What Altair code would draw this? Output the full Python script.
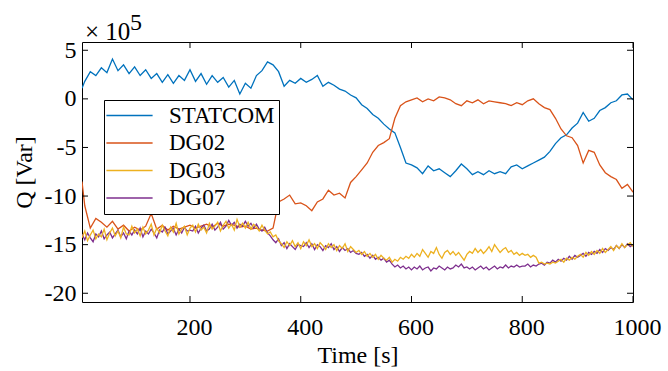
import altair as alt
import pandas as pd

# ---------------- data (values in units of 1e5 Var) ----------------
t_coarse = [5] + list(range(10, 1001, 10))      # 101 sample times
t_fine = list(range(5, 1001, 5))                 # 200 sample times

statcom = [
    1.1, 1.8, 2.8, 2.4, 3.2, 2.7, 4.1, 2.9, 3.5, 2.6, 3.3,
    2.4, 3.0, 2.1, 2.6, 1.7, 2.5, 1.6, 2.4, 1.9, 3.0,
    1.8, 2.6, 1.5, 2.4, 1.7, 2.2, 1.2, 1.9, 0.5, 1.6,
    1.1, 2.4, 2.9, 3.8, 3.5, 2.8, 1.3, 1.9, 1.6, 2.1,
    1.7, 2.0, 2.4, 1.3, 1.7, 1.4, 1.0, 0.8, 0.4, 0.1,
    -0.6, -1.0, -1.6, -2.0, -2.6, -3.1, -3.5, -5.0, -6.6, -6.8,
    -7.1, -7.7, -6.9, -7.4, -7.2, -7.6, -8.0, -7.4, -6.7, -7.2,
    -7.8, -7.5, -7.8, -7.4, -7.7, -7.5, -7.7, -7.0, -6.8, -7.2,
    -6.9, -6.6, -6.3, -6.0, -5.4, -4.6, -4.0, -3.7, -3.0, -2.5,
    -1.4, -2.3, -2.0, -1.2, -0.9, -0.4, -0.2, 0.4, 0.5, -0.1,
]

dg02 = [
    -8.5, -11.0, -13.3, -12.3, -12.7, -13.2, -12.6, -13.4, -13.0, -13.6, -13.2,
    -13.5, -13.1, -11.8, -13.4, -13.0, -13.5, -13.1, -13.4, -13.2, -13.0,
    -13.3, -13.1, -12.9, -13.2, -12.8, -13.1, -12.9, -13.0, -13.2, -13.1,
    -13.4, -13.3, -13.5, -13.6, -13.3, -10.6, -10.3, -9.9, -10.8, -10.7,
    -11.0, -11.5, -10.6, -10.3, -9.4, -9.9, -9.7, -10.2, -8.6, -8.0,
    -7.3, -6.6, -5.5, -4.8, -4.5, -4.1, -2.0, -0.7, -0.3, -0.1,
    0.1, -0.3, 0.0, -0.2, 0.2, 0.1, -0.1, -0.5, -0.7, -0.2,
    -0.4, -0.1, -0.5, -0.2, -0.3, -0.4, -0.5, -0.7, -0.4, -0.6,
    -0.2, 0.0, -0.5, -0.9, -1.1, -2.0, -3.1, -3.8, -4.0, -4.8,
    -6.6, -5.3, -5.5, -6.8, -7.6, -8.0, -8.3, -9.2, -8.8, -9.6,
]

dg03 = [
    -14.3, -13.6, -14.6, -14.0, -13.5, -14.4, -13.9, -14.2, -13.4, -14.5,
    -13.8, -13.3, -14.1, -13.6, -14.3, -13.2, -13.9, -14.0, -13.1, -13.8,
    -13.4, -14.1, -13.2, -13.9, -13.5, -12.9, -14.0, -13.3, -13.8, -13.0,
    -13.6, -14.1, -13.2, -13.7, -12.8, -13.9, -13.4, -13.1, -14.0, -13.3,
    -13.0, -13.7, -12.9, -13.5, -13.2, -13.8, -12.8, -13.4, -13.1, -12.7,
    -13.6, -13.0, -12.6, -13.3, -12.9, -13.5, -12.4, -13.2, -12.8, -13.3,
    -12.7, -13.4, -12.9, -13.2, -13.6, -13.0, -13.5, -13.9, -13.7, -14.2,
    -14.0, -14.6, -14.9, -15.3, -14.7, -15.1, -14.6, -15.2, -14.8, -15.4,
    -14.7, -15.1, -14.5, -15.2, -14.9, -15.4, -14.8, -15.1, -15.5, -14.9,
    -15.3, -15.0, -15.6, -15.1, -15.4, -14.9, -15.7, -15.2, -15.5, -15.8,
    -15.6, -16.0, -15.7, -16.2, -15.9, -16.3, -16.0, -16.5, -16.1, -16.4,
    -16.6, -16.3, -16.8, -16.5, -16.7, -16.3, -16.5, -16.2, -16.4, -16.0,
    -16.3, -15.9, -16.2, -15.5, -15.9, -16.3, -15.7, -15.9, -15.3, -16.0,
    -16.4, -15.8, -15.6, -16.0, -15.7, -16.1, -15.8, -16.2, -16.6, -16.0,
    -15.7, -15.9, -15.4, -15.8, -15.5, -15.9, -15.6, -15.2, -15.7, -15.0,
    -15.4, -15.8, -15.5, -15.3, -15.8, -15.6, -16.0, -15.8, -16.1, -15.9,
    -16.1, -16.0, -16.3, -16.1, -16.3, -16.9, -16.8, -17.0, -16.9, -17.0,
    -16.8, -16.9, -16.7, -16.5, -16.8, -16.4, -16.6, -16.3, -16.5, -16.2,
    -16.0, -16.3, -15.8, -16.1, -15.7, -16.0, -15.6, -15.9, -15.4, -15.8,
    -15.5, -15.2, -15.6, -15.1, -15.4, -14.9, -15.3, -15.0, -14.8, -15.2,
]

dg07 = [
    -13.9, -14.5, -13.8, -14.3, -14.7, -13.9, -14.2, -13.6, -14.4, -14.0,
    -13.7, -14.3, -13.9, -13.5, -14.2, -13.8, -14.4, -13.6, -14.0, -13.5,
    -13.9, -13.3, -14.2, -13.6, -13.9, -13.4, -13.8, -14.3, -13.5, -13.7,
    -13.2, -13.9, -13.6, -13.3, -14.0, -13.4, -13.8, -13.2, -13.6, -13.5,
    -13.6, -13.1, -13.8, -13.3, -13.0, -13.6, -13.4, -12.9, -13.5, -13.2,
    -12.7, -13.4, -13.1, -12.5, -13.0, -12.7, -13.3, -12.9, -13.1, -12.6,
    -13.1, -12.8, -13.3, -12.9, -13.4, -13.6, -13.2, -13.8, -14.1, -14.5,
    -14.8, -14.4, -15.1, -14.8, -15.4, -14.9, -15.2, -15.5, -15.0, -15.1,
    -15.2, -14.8, -15.3, -14.9, -15.5, -15.0, -15.2, -15.6, -15.1, -15.3,
    -14.9, -15.5, -15.2, -15.7, -15.3, -15.6, -15.4, -15.8, -15.6, -15.9,
    -16.0, -15.8, -16.2, -16.0, -16.4, -16.1, -16.5, -16.3, -16.6, -16.4,
    -16.8, -16.6, -17.0, -17.3, -17.1, -17.4, -17.2, -17.5, -17.3, -17.6,
    -17.3, -17.5, -17.2, -17.6, -17.4, -17.3, -17.7, -17.4, -17.5, -17.2,
    -17.4, -17.6, -17.3, -17.5, -17.4, -17.1, -17.3, -17.0, -17.4, -17.3,
    -17.5, -17.3, -17.6, -17.4, -17.2, -17.5, -17.3, -17.6, -17.4, -17.2,
    -17.5, -17.3, -17.4, -17.1, -17.4, -17.2, -17.3, -17.1, -17.3, -17.2,
    -17.2, -17.0, -17.3, -17.1, -17.2, -17.0, -16.9, -17.1, -16.8, -16.9,
    -16.6, -16.8, -16.5, -16.7, -16.4, -16.6, -16.2, -16.5, -16.1, -16.3,
    -16.1, -15.9, -16.2, -15.8, -16.0, -15.7, -15.9, -15.5, -15.8, -15.4,
    -15.6, -15.3, -15.5, -15.1, -15.4, -15.0, -15.3, -14.9, -15.2, -15.0,
]

series_names = ["STATCOM", "DG02", "DG03", "DG07"]
series_colors = ["#0072BD", "#D95319", "#EDB120", "#7E2F8E"]
x_ticks = [200, 400, 600, 800, 1000]
y_ticks = [-20, -15, -10, -5, 0, 5]

assert len(statcom) == len(t_coarse) and len(dg02) == len(t_coarse)
assert len(dg03) == len(t_fine) and len(dg07) == len(t_fine)

# draw order: STATCOM, DG02, DG07, DG03 (yellow on top)
rows = []
for name, times, vals in [("STATCOM", t_coarse, statcom), ("DG02", t_coarse, dg02),
                          ("DG07", t_fine, dg07), ("DG03", t_fine, dg03)]:
    for t, v in zip(times, vals):
        rows.append({"t": t, "q": v, "series": name})
df = pd.DataFrame(rows)

FONT = "Times New Roman"
W, H = 551, 260
xscale = alt.Scale(domain=[5, 1000], nice=False, zero=False)
yscale = alt.Scale(domain=[-20.9, 5.85], nice=False, zero=False)

xaxis = alt.Axis(values=x_ticks, labelExpr="'' + datum.value", tickSize=0, domain=False,
                 grid=False, labelPadding=13, labelOffset=4, labelFlush=False,
                 labelOverlap=False, labelFont=FONT, labelFontSize=24, labelColor="black",
                 labelFontWeight="normal", labelFontStyle="normal",
                 title="Time [s]", titlePadding=4)
yaxis = alt.Axis(values=y_ticks, labelExpr="'' + datum.value", tickSize=0, domain=False,
                 grid=False, labelPadding=6, labelFlush=False, labelOverlap=False,
                 labelFont=FONT, labelFontSize=24, labelColor="black",
                 labelFontWeight="normal", labelFontStyle="normal",
                 title="Q [Var]", titlePadding=8)

lines = alt.Chart(df).mark_line(strokeWidth=1.3, clip=True).encode(
    x=alt.X("t:Q", scale=xscale, axis=xaxis, title="Time [s]"),
    y=alt.Y("q:Q", scale=yscale, axis=yaxis, title="Q [Var]"),
    color=alt.Color("series:N",
                    scale=alt.Scale(domain=series_names, range=series_colors),
                    legend=alt.Legend(title=None, orient="none", legendX=22, legendY=58,
                                      strokeColor="black", fillColor="white", padding=4,
                                      symbolType="M-2.2,0H2.2", symbolSize=441,
                                      symbolStrokeWidth=1.5, symbolOffset=10,
                                      labelOffset=28, rowPadding=3.5,
                                      labelFont=FONT, labelFontSize=23, labelColor="black",
                                      labelFontWeight="normal", labelFontStyle="normal")),
    detail="series:N",
)

xt = pd.DataFrame({"v": x_ticks})
yt = pd.DataFrame({"v": y_ticks})
tick_bottom = alt.Chart(xt).mark_rule(color="black", strokeWidth=1).encode(
    x=alt.X("v:Q", scale=xscale, axis=xaxis, title="Time [s]"),
    y=alt.value(H), y2=alt.value(H - 6))
tick_top = alt.Chart(xt).mark_rule(color="black", strokeWidth=1).encode(
    x=alt.X("v:Q", scale=xscale, axis=xaxis, title="Time [s]"),
    y=alt.value(0), y2=alt.value(6))
tick_left = alt.Chart(yt).mark_rule(color="black", strokeWidth=1).encode(
    y=alt.Y("v:Q", scale=yscale, axis=yaxis, title="Q [Var]"),
    x=alt.value(0), x2=alt.value(6))
tick_right = alt.Chart(yt).mark_rule(color="black", strokeWidth=1).encode(
    y=alt.Y("v:Q", scale=yscale, axis=yaxis, title="Q [Var]"),
    x=alt.value(W), x2=alt.value(W - 6))

mult = alt.Chart(pd.DataFrame({"s": ["\u00d7 10"]})).mark_text(
    font=FONT, fontSize=25, fontWeight="normal", align="left", baseline="alphabetic",
    color="black"
).encode(text="s:N", x=alt.value(3), y=alt.value(-2))
expo = alt.Chart(pd.DataFrame({"s": ["5"]})).mark_text(
    font=FONT, fontSize=24, fontWeight="normal", align="left", baseline="alphabetic",
    color="black"
).encode(text="s:N", x=alt.value(48), y=alt.value(-12))

chart = alt.layer(lines, tick_bottom, tick_top, tick_left, tick_right, mult, expo).properties(
    width=W, height=H,
    autosize=alt.AutoSizeParams(type="none"),
    padding={"left": 82, "top": 42, "right": 35, "bottom": 69},
).configure(
    background="white", font=FONT
).configure_view(
    stroke="black", strokeWidth=1
).configure_axis(
    labelFont=FONT, labelFontSize=24, labelColor="black",
    titleFont=FONT, titleFontSize=24, titleFontWeight="normal", titleColor="black",
).configure_legend(
    labelFont=FONT, labelFontSize=23, labelColor="black",
)

chart.save("out.html", embed_options={"renderer": "svg", "actions": False})
